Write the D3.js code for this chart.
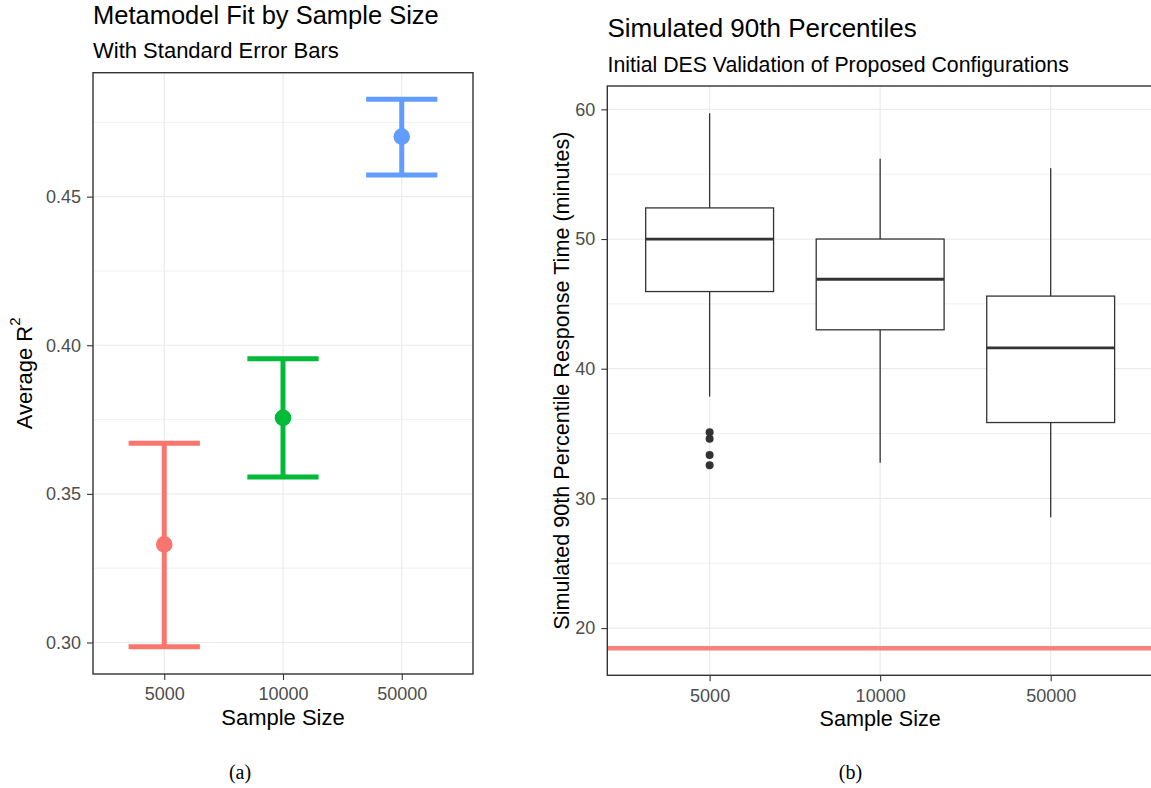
<!DOCTYPE html>
<html>
<head>
<meta charset="utf-8">
<script src="https://cdn.jsdelivr.net/npm/d3@7"></script>
<style>
  body { margin: 0; background: #fff; }
  text { font-family: "Liberation Sans", Arial, sans-serif; }
</style>
</head>
<body>
<div id="chart"></div>
<script>
// Data
var sampleSizes = ["5000", "10000", "50000"];

// (a) average R^2 with standard error bars
var r2Mean = [0.333, 0.3756, 0.4702];
var r2Lower = [0.2986, 0.3557, 0.4573];
var r2Upper = [0.3670, 0.3955, 0.4828];
var r2Colors = ["#F8766D", "#00BA38", "#619CFF"];
var r2Ticks = [0.30, 0.35, 0.40, 0.45];

// (b) boxplots of simulated 90th percentiles
var boxLowerWhisker = [37.85, 32.75, 28.55];
var boxQ1 = [45.95, 43.0, 35.85];
var boxMedian = [50.0, 46.9, 41.6];
var boxQ3 = [52.4, 50.0, 45.6];
var boxUpperWhisker = [59.7, 56.2, 55.45];
var outliers5000 = [35.1, 34.6, 33.35, 32.55];
var targetLine = 18.45;
var timeTicks = [20, 30, 40, 50, 60];

// Step 1: svg
var svgWidth = 1151;
var svgHeight = 788;

var svg = d3.select("#chart").append("svg")
  .attr("width", svgWidth)
  .attr("height", svgHeight);

var gridColor = "#EBEBEB";
var inkColor = "#333333";

// helper to draw one ggplot-like panel frame (grid + axes)
function drawFrame(g, x, y, box, yTicks, fmt, padX) {
  var minor = [];
  for (var i = 0; i < yTicks.length - 1; i++) minor.push((yTicks[i] + yTicks[i + 1]) / 2);
  var step = yTicks[1] - yTicks[0];
  minor.push(yTicks[0] - step / 2);
  minor.push(yTicks[yTicks.length - 1] + step / 2);
  var dom = y.domain();
  minor = minor.filter(d => d > dom[0] && d < dom[1]);

  g.append("g").selectAll("line").data(minor).enter().append("line")
    .attr("x1", box.left).attr("x2", box.right)
    .attr("y1", d => y(d)).attr("y2", d => y(d))
    .attr("stroke", gridColor).attr("stroke-width", 0.7);

  g.append("g").selectAll("line").data(yTicks).enter().append("line")
    .attr("x1", box.left).attr("x2", box.right)
    .attr("y1", d => y(d)).attr("y2", d => y(d))
    .attr("stroke", gridColor).attr("stroke-width", 1.2);

  g.append("g").selectAll("line").data(x.domain()).enter().append("line")
    .attr("x1", d => x(d)).attr("x2", d => x(d))
    .attr("y1", box.top).attr("y2", box.bottom)
    .attr("stroke", gridColor).attr("stroke-width", 1.2);

  var yAxis = d3.axisLeft(y).tickValues(yTicks).tickFormat(fmt).tickSize(6).tickPadding(6);
  var yG = g.append("g").attr("transform", `translate(${box.left},0)`).call(yAxis);
  var xAxis = d3.axisBottom(x).tickSize(6).tickPadding(padX);
  var xG = g.append("g").attr("transform", `translate(0,${box.bottom})`).call(xAxis);

  [yG, xG].forEach(function(a) {
    a.select(".domain").remove();
    a.selectAll("line").attr("stroke", inkColor).attr("stroke-width", 1.1);
    a.selectAll("text").attr("fill", "#4D4D4D").attr("font-size", "18px")
      .attr("font-family", "'Liberation Sans', Arial, sans-serif");
  });
}

function drawBorder(g, box) {
  g.append("rect")
    .attr("x", box.left).attr("y", box.top)
    .attr("width", box.right - box.left).attr("height", box.bottom - box.top)
    .attr("fill", "none").attr("stroke", inkColor).attr("stroke-width", 1.4);
}

// Step 2: panel (a)
var boxA = { left: 93, right: 473, top: 72.7, bottom: 674 };
var xA = d3.scalePoint().domain(sampleSizes).range([boxA.left, boxA.right]).padding(0.6);
var yA = d3.scaleLinear().domain([0.2894, 0.4917]).range([boxA.bottom, boxA.top]);
var gA = svg.append("g");
drawFrame(gA, xA, yA, boxA, r2Ticks, d3.format(".2f"), 7);

var errData = sampleSizes.map(function(s, i) {
  return { size: s, mean: r2Mean[i], lo: r2Lower[i], hi: r2Upper[i], color: r2Colors[i] };
});
var capHalf = xA.step() * 0.3;

var errG = gA.append("g").selectAll("g").data(errData).enter().append("g");
errG.append("line")
  .attr("x1", d => xA(d.size)).attr("x2", d => xA(d.size))
  .attr("y1", d => yA(d.lo)).attr("y2", d => yA(d.hi))
  .attr("stroke", d => d.color).attr("stroke-width", 5);
errG.append("line")
  .attr("x1", d => xA(d.size) - capHalf).attr("x2", d => xA(d.size) + capHalf)
  .attr("y1", d => yA(d.hi)).attr("y2", d => yA(d.hi))
  .attr("stroke", d => d.color).attr("stroke-width", 5);
errG.append("line")
  .attr("x1", d => xA(d.size) - capHalf).attr("x2", d => xA(d.size) + capHalf)
  .attr("y1", d => yA(d.lo)).attr("y2", d => yA(d.lo))
  .attr("stroke", d => d.color).attr("stroke-width", 5);
errG.append("circle")
  .attr("cx", d => xA(d.size)).attr("cy", d => yA(d.mean))
  .attr("r", 8.3).attr("fill", d => d.color);

drawBorder(gA, boxA);

gA.append("text").attr("x", 93).attr("y", 23.5)
  .attr("font-size", "25.5px").attr("fill", "#000")
  .text("Metamodel Fit by Sample Size");
gA.append("text").attr("x", 93).attr("y", 58)
  .attr("font-size", "22px").attr("fill", "#000")
  .text("With Standard Error Bars");
gA.append("text").attr("x", (boxA.left + boxA.right) / 2).attr("y", 725)
  .attr("font-size", "22px").attr("text-anchor", "middle")
  .text("Sample Size");

var yLabA = gA.append("text")
  .attr("transform", `translate(32,${(boxA.top + boxA.bottom) / 2}) rotate(-90)`)
  .attr("font-size", "22px").attr("text-anchor", "middle");
yLabA.append("tspan").text("Average R");
yLabA.append("tspan").attr("font-size", "15px").attr("dy", -12).text("2");

// Step 3: panel (b)
var boxB = { left: 607.3, right: 1153, top: 86, bottom: 675.3 };
var xB = d3.scalePoint().domain(sampleSizes).range([boxB.left, boxB.right]).padding(0.6);
var yB = d3.scaleLinear().domain([16.36, 61.8]).range([boxB.bottom, boxB.top]);
var gB = svg.append("g");
drawFrame(gB, xB, yB, boxB, timeTicks, d3.format("d"), 8);

var boxData = sampleSizes.map(function(s, i) {
  return { size: s, lw: boxLowerWhisker[i], q1: boxQ1[i], med: boxMedian[i], q3: boxQ3[i], uw: boxUpperWhisker[i] };
});
var halfBox = xB.step() * 0.375;

var bG = gB.append("g").selectAll("g").data(boxData).enter().append("g");
bG.append("line")
  .attr("x1", d => xB(d.size)).attr("x2", d => xB(d.size))
  .attr("y1", d => yB(d.uw)).attr("y2", d => yB(d.q3))
  .attr("stroke", inkColor).attr("stroke-width", 1.3);
bG.append("line")
  .attr("x1", d => xB(d.size)).attr("x2", d => xB(d.size))
  .attr("y1", d => yB(d.q1)).attr("y2", d => yB(d.lw))
  .attr("stroke", inkColor).attr("stroke-width", 1.3);
bG.append("rect")
  .attr("x", d => xB(d.size) - halfBox).attr("width", halfBox * 2)
  .attr("y", d => yB(d.q3)).attr("height", d => yB(d.q1) - yB(d.q3))
  .attr("fill", "#fff").attr("stroke", inkColor).attr("stroke-width", 1.3);
bG.append("line")
  .attr("x1", d => xB(d.size) - halfBox).attr("x2", d => xB(d.size) + halfBox)
  .attr("y1", d => yB(d.med)).attr("y2", d => yB(d.med))
  .attr("stroke", inkColor).attr("stroke-width", 2.8);

gB.append("g").selectAll("circle").data(outliers5000).enter().append("circle")
  .attr("cx", xB("5000")).attr("cy", d => yB(d))
  .attr("r", 4).attr("fill", inkColor);

gB.append("line")
  .attr("x1", boxB.left).attr("x2", boxB.right)
  .attr("y1", yB(targetLine)).attr("y2", yB(targetLine))
  .attr("stroke", "#F8766D").attr("stroke-width", 4.5).attr("opacity", 0.9);

drawBorder(gB, boxB);

gB.append("text").attr("x", 607.5).attr("y", 37)
  .attr("font-size", "26px").attr("fill", "#000")
  .text("Simulated 90th Percentiles");
gB.append("text").attr("x", 607.5).attr("y", 72)
  .attr("font-size", "21.3px").attr("fill", "#000")
  .text("Initial DES Validation of Proposed Configurations");
gB.append("text").attr("x", (boxB.left + boxB.right) / 2).attr("y", 726)
  .attr("font-size", "21.6px").attr("text-anchor", "middle")
  .text("Sample Size");
gB.append("text")
  .attr("transform", `translate(569,${(boxB.top + boxB.bottom) / 2}) rotate(-90)`)
  .attr("font-size", "21.6px").attr("text-anchor", "middle")
  .text("Simulated 90th Percentile Response Time (minutes)");

// Step 4: sub-figure captions
svg.append("text").attr("x", 240).attr("y", 779)
  .attr("text-anchor", "middle").attr("font-size", "20px")
  .style("font-family", "'Liberation Serif', 'DejaVu Serif', serif")
  .text("(a)");
svg.append("text").attr("x", 850.5).attr("y", 779)
  .attr("text-anchor", "middle").attr("font-size", "20px")
  .style("font-family", "'Liberation Serif', 'DejaVu Serif', serif")
  .text("(b)");
</script>
</body>
</html>
